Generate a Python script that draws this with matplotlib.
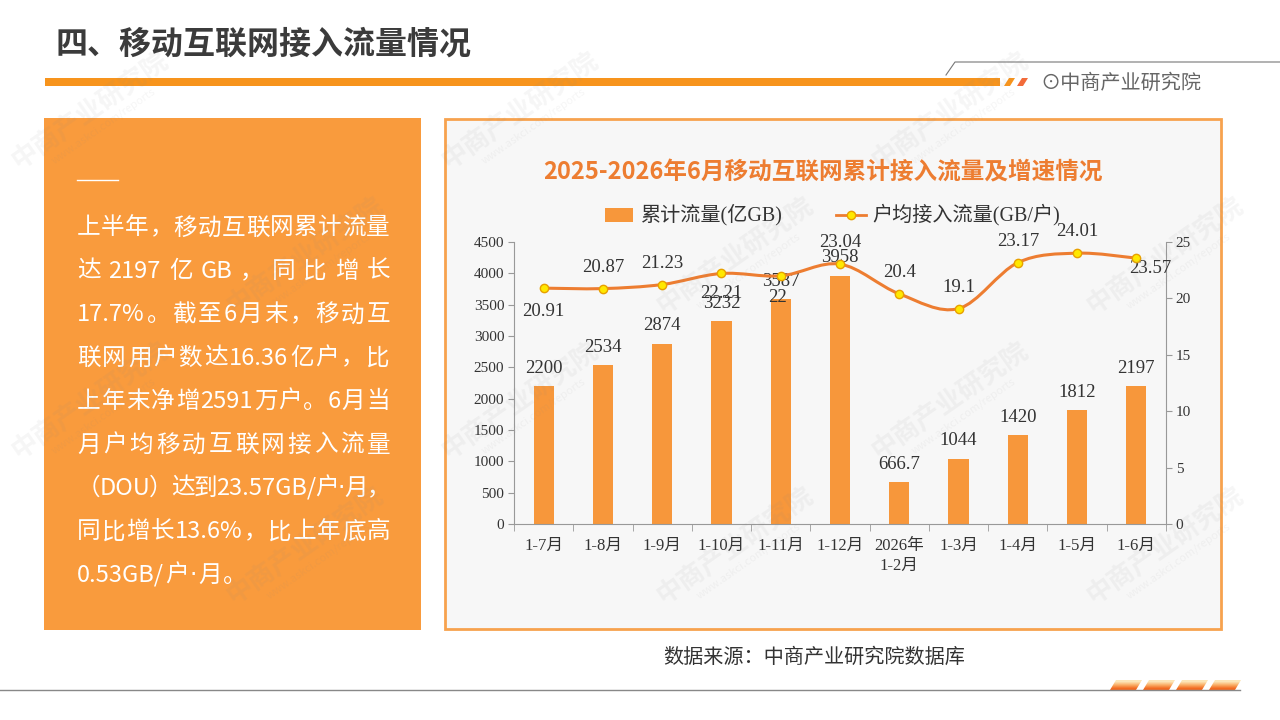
import re
import numpy as np
import matplotlib.pyplot as plt
from matplotlib.patches import Rectangle, Polygon, PathPatch
from matplotlib.path import Path

plt.rcParams['font.family'] = ['Noto Sans CJK SC', 'DejaVu Sans']

# data
categories = ['1-7月', '1-8月', '1-9月', '1-10月', '1-11月', '1-12月',
              '2026年\n1-2月', '1-3月', '1-4月', '1-5月', '1-6月']
traffic = [2200, 2534, 2874, 3232, 3587, 3958, 666.7, 1044, 1420, 1812, 2197]
traffic_labels = ['2200', '2534', '2874', '3232', '3587', '3958',
                  '666.7', '1044', '1420', '1812', '2197']
dou = [20.91, 20.87, 21.23, 22.21, 22, 23.04, 20.4, 19.1, 23.17, 24.01, 23.57]
dou_labels = ['20.91', '20.87', '21.23', '22.21', '22', '23.04',
              '20.4', '19.1', '23.17', '24.01', '23.57']
left_ticks = list(range(0, 4501, 500))
right_ticks = list(range(0, 26, 5))

# where each line label sits relative to its point (pixels)
dou_label_offsets = [(0, -23), (0, 21), (0, 21), (0, -20), (-3, -22), (0, 22),
                     (0, 21), (0, 21), (0, 21), (0, 22), (14, -10)]

page_title = '四、移动互联网接入流量情况'
chart_title = '2025-2026年6月移动互联网累计接入流量及增速情况'
bar_name = '累计流量(亿GB)'
line_name = '户均接入流量(GB/户)'
source = '数据来源：中商产业研究院数据库'
brand = '⊙中商产业研究院'
summary = ['上半年，移动互联网累计流量',
           '达 2197 亿 GB ， 同 比 增 长',
           '17.7%。截至6月末，移动互',
           '联网用户数达16.36亿户，比',
           '上年末净增2591万户。6月当',
           '月户均移动互联网接入流量',
           '（DOU）达到23.57GB/户·月，',
           '同比增长13.6%，比上年底高',
           '0.53GB/户·月。']

ORANGE = '#F99B3D'
BAR = '#F7973B'
LINE = '#ED7D31'
serif_cjk = ['Liberation Serif', 'Noto Sans CJK SC']

fig = plt.figure(figsize=(12.8, 7.2), dpi=100)

# background layer in pixel coordinates
bg = fig.add_axes([0, 0, 1, 1])
bg.set_xlim(0, 1280)
bg.set_ylim(720, 0)
bg.axis('off')
bg.set_zorder(0)

bg.text(55, 45, page_title, fontsize=23, fontweight='bold', color='#3B3B3B', va='center')
bg.add_patch(Rectangle((45, 78), 955, 8, color='#F7941D', lw=0))
bg.add_patch(Polygon([(1004, 86), (1009, 78), (1015, 78), (1010, 86)], color='#F7941D', lw=0))
bg.add_patch(Polygon([(1017, 86), (1022, 78), (1028, 78), (1023, 86)], color='#F26B3A', lw=0))
bg.plot([946, 955, 1280], [75, 62, 62], color='#777777', lw=0.8)
bg.text(1040, 83, brand, fontsize=14.5, color='#666666', va='center',
        family=['Noto Sans CJK SC', 'DejaVu Sans'])

# left summary box
bg.add_patch(Rectangle((44, 118), 377, 512, color=ORANGE, lw=0))
bg.plot([77, 118], [180, 180], color='white', lw=1)

renderer = fig.canvas.get_renderer()
line_y0, line_step = 228, 43.4
for i, line in enumerate(summary):
    y = line_y0 + i * line_step
    tokens = re.findall(r'[A-Za-z0-9.%/]+|\S', line)
    texts = []
    for t in tokens:
        fam = ['DejaVu Sans'] if t == '·' else ['Noto Sans CJK SC', 'DejaVu Sans']
        texts.append(bg.text(0, y, t, fontsize=17, color='white', va='center', family=fam))
    widths = [t.get_window_extent(renderer).width for t in texts]
    if i == len(summary) - 1:
        gap = 1
    else:
        gap = (390 - 77 - sum(widths)) / (len(tokens) - 1)
    x = 77
    for t, w in zip(texts, widths):
        t.set_x(x)
        x += w + gap

# chart panel
bg.add_patch(Rectangle((445, 119), 776, 510, fc='#F7F7F7', ec='#F7A24E', lw=2))
bg.text(823, 172, chart_title, fontsize=17, fontweight='bold', color=LINE,
        ha='center', va='center')
bg.add_patch(Rectangle((605, 208), 28, 14, color=BAR, lw=0))
bg.text(641, 215, bar_name, fontsize=14.5, color='#333333', va='center', family=serif_cjk)
bg.plot([836, 866], [215, 215], color=LINE, lw=2)
bg.plot([851], [215], 'o', ms=6, mfc='#FFE800', mec='#E8A000', mew=1)
bg.text(872, 215, line_name, fontsize=14.5, color='#333333', va='center', family=serif_cjk)

bg.text(663, 657, source, fontsize=14.5, color='#333333', va='center')

# bottom decoration
bg.plot([0, 1240], [690, 690], color='#888888', lw=1)
grad = np.array([[[0.99, 0.90, 0.72]], [[0.98, 0.68, 0.40]], [[0.95, 0.42, 0.13]]])
for i in range(4):
    x0 = 1110 + i * 33
    poly = Polygon([(x0, 690), (x0 + 6, 680), (x0 + 32, 680), (x0 + 26, 690)],
                   fc='none', ec='none')
    bg.add_patch(poly)
    im = bg.imshow(grad, extent=(x0, x0 + 33, 690, 680), aspect='auto',
                   interpolation='bilinear', origin='upper')
    im.set_clip_path(poly)
bg.set_xlim(0, 1280)
bg.set_ylim(720, 0)

# main chart
ax = fig.add_axes([514 / 1280, 1 - 524 / 720, 652 / 1280, 282 / 720])
ax.set_zorder(2)
ax.patch.set_alpha(0)
x = np.arange(len(categories))
bars = ax.bar(x, traffic, width=0.34, color=BAR, zorder=2)
for xi, v, lab in zip(x, traffic, traffic_labels):
    ax.annotate(lab, (xi, v), xytext=(0, 18), textcoords='offset pixels',
                ha='center', va='center', fontsize=13.5, color='#333333', family=serif_cjk)
ax.set_xlim(-0.5, len(categories) - 0.5)
ax.set_ylim(0, 4500)
ax.set_yticks(left_ticks)
ax.set_yticklabels([str(t) for t in left_ticks], family=serif_cjk, fontsize=11, color='#333333')
ax.set_xticks(x)
ax.set_xticklabels(categories, family=serif_cjk, fontsize=12, color='#333333', linespacing=1.35)
ax.set_xticks(np.arange(-0.5, len(categories), 1), minor=True)
ax.tick_params(axis='x', which='major', length=0, pad=10)
ax.tick_params(axis='x', which='minor', length=5, color='#999999')
ax.tick_params(axis='y', length=4, color='#999999', pad=3)
for s in ['top', 'right']:
    ax.spines[s].set_visible(False)
for s in ['left', 'bottom']:
    ax.spines[s].set_color('#999999')

ax2 = ax.twinx()
ax2.set_zorder(3)
ax2.patch.set_alpha(0)
ax2.set_ylim(0, 25)
ax2.set_yticks(right_ticks)
ax2.set_yticklabels([str(t) for t in right_ticks], family=serif_cjk, fontsize=11, color='#333333')
ax2.tick_params(axis='y', length=4, color='#999999', pad=3)
for s in ['top', 'left', 'bottom']:
    ax2.spines[s].set_visible(False)
ax2.spines['right'].set_color('#999999')

# smooth line through the points (bezier, like the office smoothed line)
pts = np.column_stack([x, dou]).astype(float)
verts = [tuple(pts[0])]
codes = [Path.MOVETO]
n = len(pts)
for i in range(n - 1):
    p0 = pts[max(i - 1, 0)]
    p1 = pts[i]
    p2 = pts[i + 1]
    p3 = pts[min(i + 2, n - 1)]
    c1 = p1 + (p2 - p0) / 6
    c2 = p2 - (p3 - p1) / 6
    verts += [tuple(c1), tuple(c2), tuple(p2)]
    codes += [Path.CURVE4] * 3
ax2.add_patch(PathPatch(Path(verts, codes), fc='none', ec=LINE, lw=2.2, zorder=3))
ax2.plot(x, dou, 'o', ms=6, mfc='#FFE800', mec='#E8A000', mew=1, zorder=4)
for xi, v, lab, (dx, dy) in zip(x, dou, dou_labels, dou_label_offsets):
    ax2.annotate(lab, (xi, v), xytext=(dx, dy), textcoords='offset pixels',
                 ha='center', va='center', fontsize=13.5, color='#333333', family=serif_cjk)

# faint watermark overlay
wm = fig.add_axes([0, 0, 1, 1])
wm.set_zorder(10)
wm.set_xlim(0, 1280)
wm.set_ylim(720, 0)
wm.axis('off')
wm.patch.set_alpha(0)
for j, wy in enumerate(range(110, 650, 145)):
    for wx in range(90 + (j % 2) * 215, 1230, 430):
        wm.text(wx, wy, '中商产业研究院', rotation=35, fontsize=19, fontweight='bold',
                color='#888888', alpha=0.08, ha='center', va='center')
        wm.text(wx + 14, wy + 16, 'www.askci.com/reports', rotation=35, fontsize=8,
                color='#888888', alpha=0.08, ha='center', va='center')

fig.savefig('out.png', dpi=100)
